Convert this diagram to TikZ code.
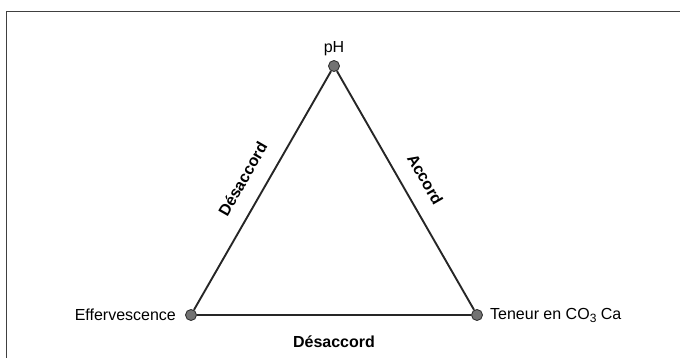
\documentclass[tikz,border=0pt]{standalone}
\usepackage{fontspec}
\setmainfont{Liberation Sans}
\usepackage{xcolor}
\usepackage{tikz}
\usetikzlibrary{positioning}

\begin{document}
\begin{tikzpicture}[
    x=1pt, y=-1pt,
    pole/.style={circle, draw=black!80, fill=black!55, line width=0.9pt, minimum size=11pt, inner sep=0pt},
    lbl/.style={font=\fontsize{16}{18}\selectfont, inner sep=1pt},
    rel/.style={font=\bfseries\fontsize{16}{18}\selectfont, inner sep=0pt},
    lnk/.style={draw=black!85, line width=1.9pt},
]

\useasboundingbox (0,0) rectangle (680,358);

% cadre
\draw[black!75, line width=0.9pt] (6,358) -- (6,11) -- (680,11);

\node[pole] (ph) at (334, 66) {};
\node[pole] (eff) at (191, 315) {};
\node[pole] (ten) at (477, 315) {};

\node[lbl, above=3pt of ph] (phtxt) {pH};
\node[lbl, left=8pt of eff] (efftxt) {Effervescence};
\node[lbl, right=6pt of ten] (tentxt) {Teneur en CO\raisebox{-0.35ex}{\fontsize{12}{12}\selectfont 3} Ca};

\draw[lnk] (eff) -- node[rel, midway, sloped, above=16pt] {Désaccord} (ph);
\draw[lnk] (ph) -- node[rel, midway, sloped, above=16pt] {Accord} (ten);
\draw[lnk] (eff) -- node[rel, midway, below=20pt] {Désaccord} (ten);

\end{tikzpicture}
\end{document}
